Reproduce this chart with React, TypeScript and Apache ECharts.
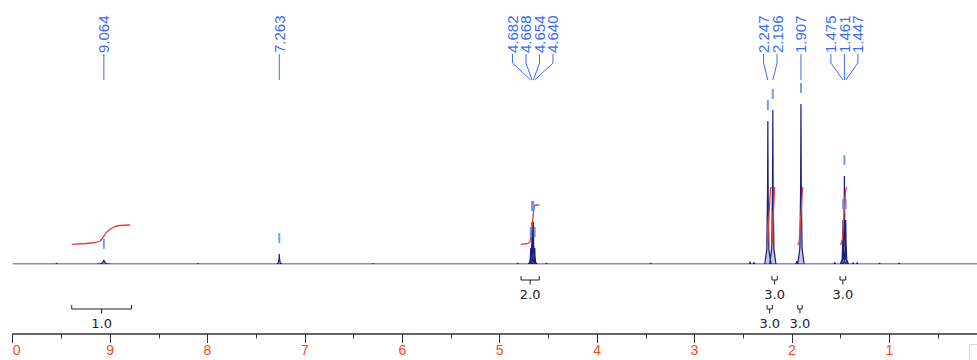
import React, { useEffect, useRef } from "react";
import * as echarts from "echarts";

// ---- data ----
const peakPpm = [9.064, 7.263, 4.682, 4.668, 4.654, 4.64, 2.247, 2.196, 1.907, 1.475, 1.461, 1.447];
const peakHeight = [4, 10, 16, 42, 42, 16, 143, 154, 160, 44, 88, 44];
const peakWidth = [0.08, 0.03, 0.025, 0.025, 0.025, 0.025, 0.032, 0.032, 0.032, 0.028, 0.028, 0.028];
const peakGroup = [0, 1, 2, 2, 2, 2, 3, 3, 4, 5, 5, 5];

const noisePpm = [9.55, 8.1, 6.3, 4.815, 4.52, 3.45, 2.43, 2.39, 1.95, 1.56, 1.37, 1.33, 1.1, 0.9];
const noiseHeight = [0.8, 0.6, 0.6, 1, 1, 0.7, 2.5, 2, 3, 2, 1.5, 1.5, 0.8, 1];

const integralCurves = [
  [[9.394, 19.7], [9.25, 20.5], [9.15, 21.5], [9.1, 23], [9.07, 27], [9.04, 31.5], [9.0, 34.7], [8.95, 37.5], [8.9, 38.5], [8.796, 39]],
  [[4.781, 19.7], [4.71, 20.5], [4.69, 22], [4.675, 30], [4.66, 45], [4.65, 55], [4.64, 58.5], [4.62, 59], [4.593, 59]],
  [[2.26, 19], [2.25, 21], [2.235, 50], [2.22, 75], [2.212, 77]],
  [[2.21, 19], [2.2, 22], [2.19, 52], [2.178, 77]],
  [[1.94, 19], [1.925, 22], [1.905, 52], [1.89, 77]],
  [[1.5, 19], [1.48, 25], [1.465, 50], [1.45, 72], [1.437, 77]],
];

const integralFrom = [9.394, 4.781, 2.255, 2.205, 1.94, 1.506];
const integralTo = [8.78, 4.593, 2.2, 2.15, 1.895, 1.448];
const integralValue = ["1.0", "2.0", "3.0", "3.0", "3.0", "3.0"];
const integralRow = [1, 0, 1, 0, 1, 0];

const axisMin = 0;
const axisMax = 10;

const BLUE = "#3b6cf2";
const NAVY = "#1a1f7a";
const RED = "#e0403c";

export default function App() {
  const ref = useRef<HTMLDivElement>(null);

  useEffect(() => {
    if (!ref.current) return;
    const chart = echarts.init(ref.current, undefined, { renderer: "svg" });

    // spectrum: baseline plus one segment per peak, separated by gaps
    const spectrum: any[] = [[axisMax, 0], [axisMin, 0]];
    const addPeak = (p: number, h: number, w: number) => {
      spectrum.push([p, "-"]);
      spectrum.push([p + w, 0], [p + w * 0.35, h * 0.1], [p + w * 0.1, h * 0.5], [p, h], [p - w * 0.1, h * 0.5], [p - w * 0.35, h * 0.1], [p - w, 0]);
    };
    noisePpm.forEach((p, i) => addPeak(p, noiseHeight[i], 0.02));
    peakPpm.forEach((p, i) => addPeak(p, peakHeight[i], peakWidth[i]));

    // label groups
    const groupCenter: number[] = [];
    const groupSize: number[] = [];
    const groupIdx: number[] = [];
    const counts: Record<number, number> = {};
    const sums: Record<number, number> = {};
    peakGroup.forEach((g, i) => {
      counts[g] = (counts[g] || 0) + 1;
      sums[g] = (sums[g] || 0) + peakPpm[i];
    });
    const seen: Record<number, number> = {};
    peakGroup.forEach((g, i) => {
      groupCenter.push(sums[g] / counts[g]);
      groupSize.push(counts[g]);
      groupIdx.push(seen[g] || 0);
      seen[g] = (seen[g] || 0) + 1;
    });
    const labelData = peakPpm.map((p, i) => [p, groupCenter[i], groupIdx[i], groupSize[i], peakHeight[i]]);

    const option: any = {
      animation: false,
      backgroundColor: "#ffffff",
      grid: { left: 12.7, right: -9.7, top: 0, bottom: 96, containLabel: false, outerBoundsMode: "none" },
      xAxis: {
        type: "value",
        min: axisMin,
        max: axisMax,
        interval: 1,
        inverse: true,
        offset: 70,
        splitLine: { show: false },
        axisLine: { onZero: false, lineStyle: { color: "#333", width: 1.5 } },
        axisTick: { length: 9, lineStyle: { color: "#333", width: 1 } },
        minorTick: { show: true, splitNumber: 2, length: 4.5, lineStyle: { color: "#333", width: 1 } },
        minorSplitLine: { show: false },
        axisLabel: { color: "#f24a1c", fontSize: 14, fontFamily: '"Liberation Sans", Arial, sans-serif', margin: 9, showMinLabel: false },
      },
      yAxis: { type: "value", min: 0, max: 264, show: false },
      graphic: [
        { type: "rect", shape: { x: 969.5, y: 344.5, width: 14, height: 20 }, style: { fill: "#fff", stroke: "#d6d6d6", lineWidth: 1 } },
      ],
      series: [
        {
          type: "line",
          data: spectrum,
          symbol: "none",
          connectNulls: false,
          lineStyle: { color: NAVY, width: 1.2 },
          areaStyle: { color: "rgba(50,50,150,0.4)" },
          z: 2,
        },
        ...integralCurves.map((c) => ({
          type: "line",
          data: c,
          symbol: "none",
          lineStyle: { color: RED, width: 1.3 },
          z: 3,
        })),
        {
          type: "custom",
          coordinateSystem: "cartesian2d",
          encode: { x: 0, y: 4 },
          data: labelData,
          z: 4,
          renderItem: (params: any, api: any) => {
            const p = api.value(0);
            const px = api.coord([p, 0])[0];
            const cx = api.coord([api.value(1), 0])[0];
            const k = api.value(2);
            const n = api.value(3);
            const lx = cx + (k - (n - 1) / 2) * 13.5;
            const top = api.coord([p, api.value(4)])[1];
            return {
              type: "group",
              children: [
                { type: "polyline", shape: { points: [[lx, 54], [lx, 63], [px, 80]] }, style: { stroke: BLUE, lineWidth: 1, fill: null } },
                {
                  type: "text",
                  x: lx,
                  y: 53,
                  rotation: Math.PI / 2,
                  style: { text: peakPpm[params.dataIndex].toFixed(3), fill: BLUE, fontSize: 15, fontFamily: '"Liberation Sans", Arial, sans-serif', align: "left", verticalAlign: "middle" },
                },
                { type: "line", shape: { x1: px, y1: top - 21, x2: px, y2: top - 11 }, style: { stroke: "#5b8ef5", lineWidth: 2, opacity: 0.85 } },
              ],
            };
          },
        },
        {
          type: "custom",
          coordinateSystem: "cartesian2d",
          encode: { x: [0, 1], y: 2 },
          data: integralFrom.map((f, i) => [f, integralTo[i], integralRow[i]]),
          z: 4,
          renderItem: (params: any, api: any) => {
            const x1 = api.coord([api.value(0), 0])[0];
            const x2 = api.coord([api.value(1), 0])[0];
            const xc = (x1 + x2) / 2;
            const y = api.value(2) === 0 ? 280 : 309;
            return {
              type: "group",
              children: [
                { type: "polyline", shape: { points: [[x1, y - 4], [x1, y], [x2, y], [x2, y - 4]] }, style: { stroke: "#222", lineWidth: 1, fill: null } },
                { type: "line", shape: { x1: xc, y1: y, x2: xc, y2: y + 4.5 }, style: { stroke: "#222", lineWidth: 1 } },
                {
                  type: "text",
                  x: xc,
                  y: y + 14,
                  style: { text: integralValue[params.dataIndex], fill: "#222", fontSize: 13, fontFamily: '"DejaVu Sans", sans-serif', align: "center", verticalAlign: "middle" },
                },
              ],
            };
          },
        },
      ],
    };
    chart.setOption(option);
    return () => chart.dispose();
  }, []);

  return (
    <div style={{ position: "fixed", left: 0, top: 0, width: 977, height: 360, overflow: "hidden", background: "#fff" }}>
      <div style={{ position: "absolute", left: 12, top: 0, width: 965, height: 360, overflow: "hidden" }}>
        <div ref={ref} style={{ position: "absolute", left: -12, top: 0, width: 977, height: 360 }} />
      </div>
    </div>
  );
}
